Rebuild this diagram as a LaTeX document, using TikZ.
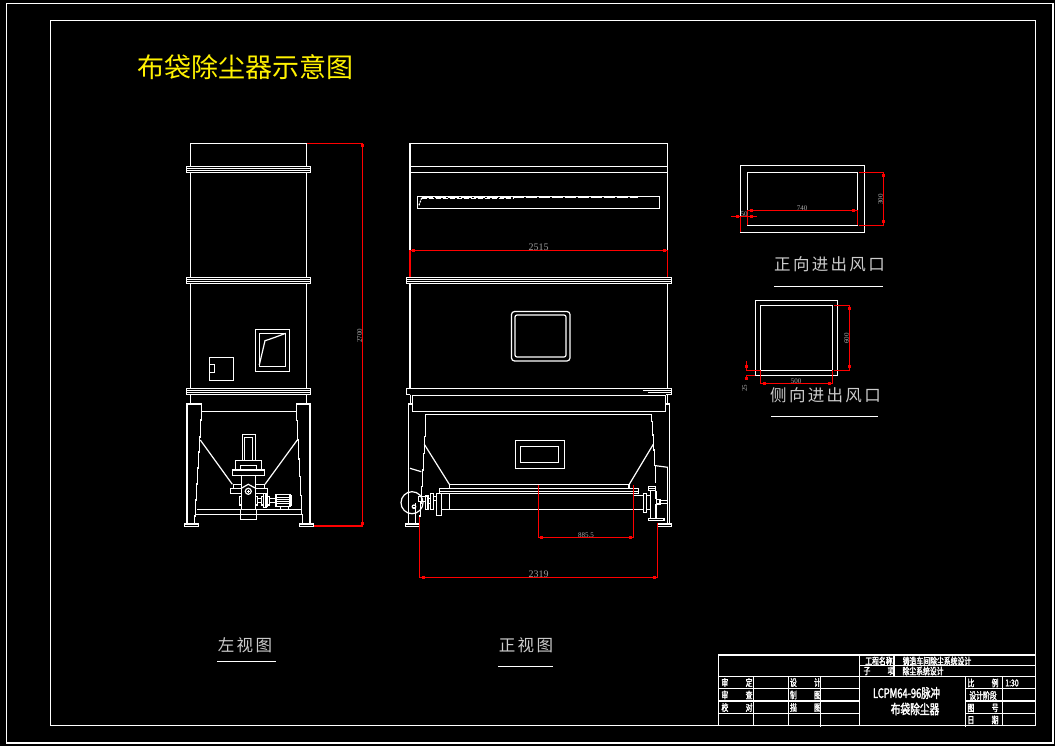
\documentclass[tikz,border=0pt]{standalone}
\usepackage{amsmath}
\usepackage{fontspec}
\usepackage{tikz}
\setmainfont{Liberation Serif}
\newfontfamily\titlefont{Noto Sans CJK SC}
\newfontfamily\viewfont[LetterSpace=14]{Noto Sans CJK SC}
\newfontfamily\blockfont[FakeStretch=0.72,FakeBold=2]{Noto Sans CJK SC}
\definecolor{dimtext}{gray}{0.62}
\definecolor{viewtext}{gray}{0.8}
\tikzset{
  part/.style={draw=white,line width=1.2pt},
  bandline/.style={draw=white,line width=.9pt},
  dimline/.style={draw=red,line width=1.3pt},
  dimlabel/.style={text=dimtext,inner sep=0pt,font=\fontsize{10}{10}\selectfont},
  smalllabel/.style={text=dimtext!85,inner sep=0pt,font=\fontsize{7}{7}\selectfont},
  viewlabel/.style={text=viewtext,inner sep=0pt,font=\viewfont\fontsize{16.5}{17}\selectfont},
  blocklabel/.style={text=white,inner sep=0pt,font=\blockfont\fontsize{9.5}{10}\selectfont},
}
\newcommand{\tickmark}[2]{\fill[red] (#1-1.5,#2-1.5) rectangle ++(3,3);}
\newcommand{\flangeband}[3]{
  \draw[bandline] (#1,#3) rectangle (#2,#3+6);
  \draw[bandline] (#1,#3+2) -- (#2,#3+2);
  \draw[bandline] (#1,#3+4) -- (#2,#3+4);
}
\newcommand{\twochar}[2]{\makebox[31pt][s]{#1\hfill #2}}
\begin{document}
\begin{tikzpicture}[x=1pt,y=-1pt]
  \fill[black] (0,0) rectangle (1055,746);
  \useasboundingbox (0,0) rectangle (1055,746);
  \draw[part] (6.5,3.5) rectangle (1053,743);
  \draw[part] (50.5,20.5) rectangle (1035.5,725.3);
  \node[text=yellow,inner sep=0pt,font=\titlefont\fontsize{27}{27}\selectfont] (titletext) at (245.5,67) {布袋除尘器示意图};

  \draw[part] (190.3,166.5) -- (190.3,143.3) -- (306.3,143.3) -- (306.3,166.5);
  \draw[part] (190.3,172.5) -- (190.3,277.5);
  \draw[part] (306.3,172.5) -- (306.3,277.5);
  \draw[part] (190.3,283.5) -- (190.3,388.5);
  \draw[part] (306.3,283.5) -- (306.3,388.5);
  \draw[part] (190.3,394.5) -- (190.3,404);
  \draw[part] (306.3,394.5) -- (306.3,404);
  \flangeband{186.5}{310.5}{166.5}
  \flangeband{186.5}{310.5}{277.5}
  \flangeband{186.5}{310.5}{388.5}
  \draw[part] (255.3,329.3) rectangle (289.7,371.7);
  \draw[part] (259.3,333.3) rectangle (285.7,366.7);
  \draw[part] (259.3,365) -- (265,340.7) -- (267.3,340) -- (275,337.3) -- (285.7,333.3);
  \draw[part] (209.3,357.3) rectangle (233.7,380.3);
  \draw[part] (209.3,364.3) -- (214.7,364.3) -- (214.7,372.7) -- (209.3,372.7);

  \draw[part] (187,524) -- (187,404) -- (201.7,404) -- (201.7,420) -- (200.3,420) -- (200.3,437) -- (199.3,437) -- (199.3,452) -- (198.3,452) -- (198.3,468) -- (197.3,468) -- (197.3,484) -- (196.3,484) -- (196.3,500) -- (195.3,500) -- (195.3,516) -- (194.3,516) -- (194.3,524);
  \draw[part] (310,524) -- (310,404) -- (296.3,404) -- (296.3,420.7) -- (297.3,420.7) -- (297.3,440) -- (298.3,440) -- (298.3,459) -- (299.3,459) -- (299.3,476.7) -- (300.3,476.7) -- (300.3,495.7) -- (301.3,495.7) -- (301.3,514.3) -- (302.3,514.3) -- (302.3,524);
  \draw[part] (184.3,524) rectangle (198.7,526.7);
  \draw[part] (299.3,524) rectangle (313.7,526.7);
  \draw[part] (201.7,411.3) -- (296.3,411.3);
  \draw[part] (197,509.3) -- (301,509.3);
  \draw[part] (195.3,514.3) -- (301.7,514.3);
  \draw[part] (200.3,440) -- (232.3,484.3);
  \draw[part] (297.3,440) -- (265,484.3);
  \draw[part] (242.3,460.3) -- (242.3,434.3) -- (255.7,434.3) -- (255.7,460.3);
  \draw[part] (244.3,460.3) -- (244.3,437.3) -- (252.7,437.3) -- (252.7,460.3);
  \draw[part] (235.3,470) -- (235.3,460.3) -- (261.7,460.3) -- (261.7,470);
  \draw[part] (240.3,470) -- (240.3,465.7) -- (256.7,465.7) -- (256.7,470);
  \draw[part] (232.3,470) rectangle (264.7,475.7);
  \draw[part] (241.3,475.7) -- (241.3,509.3);
  \draw[part] (255.7,475.7) -- (255.7,509.3);
  \draw[part] (240.3,509.3) rectangle (256.7,519.3);
  \draw[part] (233.3,488.3) -- (233.3,484.3) -- (241.3,484.3);
  \draw[part] (255.7,484.3) -- (264.7,484.3) -- (264.7,488.3);
  \draw[part] (230.3,488.3) rectangle (241.3,493.7);
  \draw[part] (255.7,488.3) rectangle (267.7,493.7);
  \draw[part] (241.3,488.3) -- (248.3,484.3) -- (255.7,488.3);
  \draw[part] (248.3,491.3) circle (3);
  \draw[part] (246.8,491.3) -- (249.8,491.3);
  \draw[part] (248.3,489.8) -- (248.3,492.8);
  \draw[part] (239.3,496.3) rectangle (241.3,505);
  \draw[part] (255.7,496.3) rectangle (257.7,505);
  \draw[part] (257.7,498.7) rectangle (261.7,502.7);
  \draw[part] (261.7,496.3) rectangle (263.3,505);
  \draw[part] (263.3,493.3) rectangle (266,507.7);
  \draw[part] (266,493.7) rectangle (267.7,506.7);
  \draw[part] (267.7,496.3) rectangle (269.7,505);
  \draw[part] (269.7,498.7) rectangle (275.3,502.7);
  \draw[part] (275.3,494.7) rectangle (290,506.3);
  \draw[part] (276.7,494.7) -- (276.7,506.3);
  \foreach \y in {497,499.3,501.6,503.9}
    \draw[bandline] (276.7,\y) -- (290,\y);
  \draw[part] (290,495.3) rectangle (291.7,505.7);
  \draw[part] (280.3,506.3) -- (280.3,509.3);
  \draw[part] (288.3,506.3) -- (288.3,509.3);

  \draw[dimline] (307,143.3) -- (362.7,143.3) -- (362.7,526) -- (314,526);
  \tickmark{362.7}{146}
  \tickmark{362.7}{523}
  \node[smalllabel,rotate=90] (heightdim) at (359.5,335.5) {2700};

  \draw[part] (410,166.3) -- (410,143.3) -- (667.7,143.3) -- (667.7,166.3);
  \draw[part] (410,166.3) -- (667.7,166.3);
  \draw[part] (410,172.3) -- (667.7,172.3);
  \draw[part] (410,166.3) -- (410,277.5);
  \draw[part] (667.7,166.3) -- (667.7,277.5);
  \draw[part] (410,283.5) -- (410,388.3);
  \draw[part] (667.7,283.5) -- (667.7,388.3);
  \draw[part] (417.3,196.3) rectangle (659.3,208.3);
  \draw[draw=white,line width=1.2pt,dash pattern=on 11pt off 2pt] (421.7,197.7) -- (638,197.7);
  \draw[draw=white,line width=1pt,dash pattern=on 5pt off 2pt] (421.7,198.5) -- (514,198.5);
  \draw[draw=white,line width=1.2pt,dash pattern=on 2pt off 1pt] (421.7,197.8) -- (418.7,206);
  \flangeband{406.5}{671.5}{277.5}
  \draw[part,rounded corners=3pt] (511.5,311.5) rectangle (570,361);
  \draw[part,rounded corners=2pt] (515,315) rectangle (566,357);

  \draw[dimline] (410,276.7) -- (410,250.3) -- (667.7,250.3) -- (667.7,276.7);
  \tickmark{413.5}{250.3}
  \tickmark{664.3}{250.3}
  \node[dimlabel] (widthdim) at (538.5,247) {2515};

  \draw[part] (410.3,394.7) -- (406.3,394.7) -- (406.3,388.3) -- (671.7,388.3) -- (671.7,394.7) -- (665.7,394.7);
  \draw[part] (643.3,390.7) -- (671.7,390.7);
  \draw[part] (648.3,392.7) -- (671.7,392.7);
  \draw[part] (412.3,395.3) rectangle (665.7,411.7);
  \draw[part] (410.3,394.7) -- (410.3,404) -- (408.3,404) -- (408.3,524);
  \draw[part] (410.3,404) -- (412.3,404);
  \draw[part] (667.7,394.7) -- (667.7,404);
  \draw[part] (665.7,404) -- (669.7,404) -- (669.7,524);
  \draw[part] (667.7,467.3) -- (667.7,524);
  \draw[part] (419.3,516) -- (420.3,516) -- (420.3,503) -- (421.3,503) -- (421.3,486.7) -- (422.3,486.7) -- (422.3,470) -- (423.3,470) -- (423.3,453.3) -- (424.3,453.3) -- (424.3,436.7) -- (425.3,436.7) -- (425.3,414.3) -- (651.7,414.3) -- (651.7,421.7) -- (652.7,421.7) -- (652.7,435) -- (653.7,435) -- (653.7,450) -- (654.7,450) -- (654.7,465.7) -- (655.7,465.7) -- (655.7,483.3);
  \draw[part] (655.7,465.7) -- (667.7,467.3);
  \draw[part] (410,468.3) -- (421.3,471.7);
  \draw[part] (424.3,444.3) -- (449.3,484.3);
  \draw[part] (653.3,444.3) -- (629.3,484.3);
  \draw[part] (515.3,440.3) rectangle (564.7,468.7);
  \draw[part] (520.3,446.3) rectangle (558.7,462.7);

  \draw[part] (449.3,488.3) -- (449.3,484.3) -- (629,484.3) -- (629,488.3);
  \draw[part] (439.3,488.3) rectangle (638.7,493.7);
  \draw[bandline] (439.3,491.8) -- (638.7,491.8);
  \draw[part] (449.3,493.7) -- (449.3,509.3);
  \draw[part] (441.7,509.3) -- (643.3,509.3);
  \draw[part] (436.3,493.7) rectangle (441.7,515.7);
  \draw[part] (634,495.7) -- (643.3,495.7);
  \draw[part] (643.3,493.3) rectangle (646.7,512.7);
  \draw[part] (646.7,495.7) -- (650.7,495.7);
  \draw[part] (646.7,509.3) -- (650.7,509.3);
  \draw[part] (650.7,491) -- (650.7,518.3);
  \draw[part] (656,491) -- (656,499.3);
  \draw[part] (656,504) -- (656,518.3);
  \draw[part] (648.3,486.7) rectangle (655.7,490.7);
  \draw[bandline] (648.3,488.5) -- (655.7,488.5);
  \draw[part] (648.3,518.3) rectangle (664,520.7);
  \draw[part] (656.7,499.3) rectangle (660,504);
  \draw[part] (660,500.7) -- (667.7,500.7);
  \draw[part] (660,503.3) -- (667.7,503.3);
  \draw[part] (657.3,524) rectangle (671.7,526.3);
  \draw[part] (405.3,524) rectangle (419.7,526.3);
  \draw[part] (415.3,524) -- (415.3,503);

  \draw[part] (412,502.7) circle (11);
  \fill[white] (414,506.7) circle (2.4);
  \draw[draw=black,line width=.6pt] (412.6,506.7) -- (415.4,506.7);
  \draw[part] (418.7,496.7) rectangle (425.3,501.7);
  \draw[part] (425.3,496) rectangle (428,509.3);
  \draw[part] (428,498.3) rectangle (430.7,503.3);
  \draw[part] (430.7,493.3) rectangle (433.3,509.3);
  \draw[part] (433.3,496.7) rectangle (436.3,500.7);

  \draw[dimline] (538.7,485) -- (538.7,537.3) -- (633.7,537.3) -- (633.7,485);
  \tickmark{541.7}{537.3}
  \tickmark{630.3}{537.3}
  \node[smalllabel] (offsetdim) at (586,535) {885.5};
  \draw[dimline] (419.3,517.3) -- (419.3,577.3) -- (657.3,577.3) -- (657.3,523.3);
  \tickmark{423.3}{577.3}
  \tickmark{654}{577.3}
  \node[dimlabel] (spandim) at (538.5,574.5) {2319};

  \draw[part] (740.3,165.3) rectangle (864.3,232.3);
  \draw[part] (747.3,172.3) rectangle (857.7,225.3);
  \draw[dimline] (747.3,225.3) -- (747.3,210.3) -- (857.7,210.3) -- (857.7,225.3);
  \tickmark{751.3}{210.3}
  \tickmark{853.3}{210.3}
  \node[smalllabel] (ductwidth) at (802,208.5) {740};
  \draw[dimline] (859.3,172.3) -- (883.3,172.3) -- (883.3,225.3) -- (859.3,225.3);
  \tickmark{883.3}{176}
  \tickmark{883.3}{221.5}
  \node[smalllabel,rotate=90] (ductheight) at (880.5,199.5) {300};
  \draw[dimline] (731,216.3) -- (757,216.3);
  \draw[dimline] (740.3,216.3) -- (740.3,232.3);
  \tickmark{737.3}{216.3}
  \tickmark{751.3}{216.3}
  \node[smalllabel] (ductflange) at (744,214) {50};
  \node[viewlabel] (frontduct) at (829.5,264.5) {正向进出风口};
  \draw[part] (774.3,286.3) -- (882.7,286.3);

  \draw[part] (755.3,300.3) rectangle (837.7,375.7);
  \draw[part] (760.3,305.3) rectangle (832.7,370.3);
  \draw[dimline] (760.3,370.3) -- (760.3,383.3) -- (832.7,383.3) -- (832.7,370.3);
  \tickmark{764.3}{383.3}
  \tickmark{829.3}{383.3}
  \node[smalllabel] (sidewidth) at (796,381) {500};
  \draw[dimline] (834,305.3) -- (849.3,305.3) -- (849.3,370.3) -- (834,370.3);
  \tickmark{849.3}{308.7}
  \tickmark{849.3}{366.3}
  \node[smalllabel,rotate=90] (sideheight) at (846.5,338.3) {600};
  \draw[dimline] (746.3,361) -- (746.3,370.3) -- (760.3,370.3);
  \draw[dimline] (755.3,375.7) -- (746.3,375.7) -- (746.3,380);
  \tickmark{746.3}{366.3}
  \tickmark{746.3}{378.3}
  \node[smalllabel,rotate=90] (sideflange) at (744.5,388) {25};
  \node[viewlabel] (sideduct) at (825.5,395.5) {侧向进出风口};
  \draw[part] (771,416.3) -- (877.7,416.3);

  \node[viewlabel] (leftview) at (245,645) {左视图};
  \draw[part] (217,661.3) -- (276,661.3);
  \node[viewlabel] (frontview) at (526,645) {正视图};
  \draw[part] (498,666.3) -- (553,666.3);

  \draw[part] (718.3,655) rectangle (1035.7,725.3);
  \draw[part] (718.3,676.3) -- (1035.7,676.3);
  \draw[part] (859.3,655) -- (859.3,725.3);
  \draw[part] (859.3,665.3) -- (1035.7,665.3);
  \draw[part] (894,655) -- (894,676.3);
  \foreach \y in {688.7,701,713.3}
    \draw[part] (718.3,\y) -- (859.3,\y);
  \foreach \y in {688.7,701,713.3}
    \draw[part] (965.3,\y) -- (1035.7,\y);
  \draw[part] (753.3,676.3) -- (753.3,725.3);
  \draw[part] (788.3,676.3) -- (788.3,725.3);
  \draw[part] (820.3,676.3) -- (820.3,726.7);
  \draw[part] (965.3,676.3) -- (965.3,726.7);
  \draw[part] (1002.3,676.3) -- (1002.3,725.3);

  \node[blocklabel] (approve) at (737,682.5) {\twochar{审}{定}};
  \node[blocklabel] (review) at (737,695) {\twochar{审}{查}};
  \node[blocklabel] (check) at (737,707.5) {\twochar{校}{对}};
  \node[blocklabel] (design) at (805.5,682.5) {\twochar{设}{计}};
  \node[blocklabel] (drawn) at (805.5,695) {\twochar{制}{图}};
  \node[blocklabel] (traced) at (805.5,707.5) {\twochar{描}{图}};
  \node[blocklabel] (scalename) at (983,683) {\twochar{比}{例}};
  \node[blocklabel] (scalevalue) at (1012,683) {1:30};
  \node[blocklabel] (stage) at (983,695.5) {设计阶段};
  \node[blocklabel] (drawingno) at (983,708) {\twochar{图}{号}};
  \node[blocklabel] (datename) at (983,720) {\twochar{日}{期}};
  \node[blocklabel] (projectname) at (879,661) {工程名称};
  \node[blocklabel] (projecttext) at (937,661) {铸造车间除尘系统设计};
  \node[blocklabel] (subname) at (879,671) {\twochar{子}{项}};
  \node[blocklabel] (subtext) at (923,671) {除尘系统设计};
  \node[blocklabel,font=\blockfont\fontsize{13}{13}\selectfont] (modelname) at (906.5,693) {LCPM64-96脉冲};
  \node[blocklabel,font=\blockfont\fontsize{13.5}{14}\selectfont] (devicename) at (915,709) {布袋除尘器};
\end{tikzpicture}
\end{document}
